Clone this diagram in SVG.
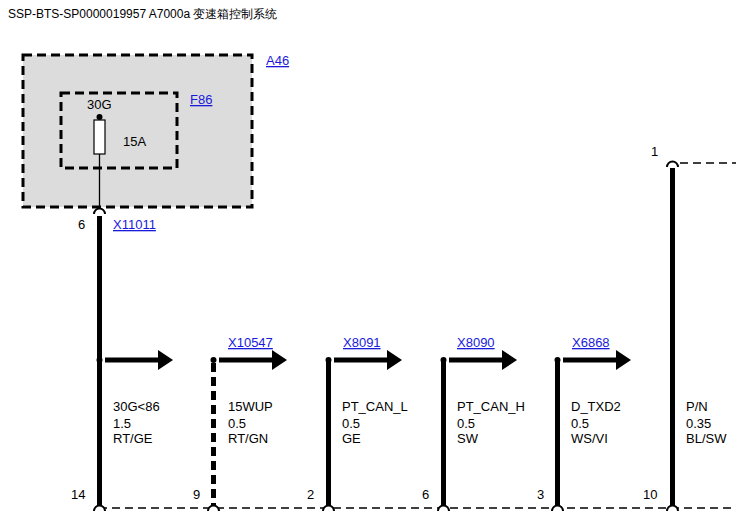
<svg xmlns="http://www.w3.org/2000/svg" width="736" height="511" viewBox="0 0 736 511">
<style>
text{font-family:"Liberation Sans",Arial,sans-serif;font-size:13px;fill:#000}
.t{font-size:12px}
.lnk{fill:#1a1adb;text-decoration:underline}
.w{stroke:#000;stroke-width:5;fill:none}
.cn{stroke:#000;stroke-width:2;fill:#fff}
.dash{stroke:#000;stroke-width:1.3;stroke-dasharray:8,5;fill:none}
</style>
<defs>
<marker id="ah" markerWidth="4" markerHeight="4" refX="0" refY="2" orient="auto" markerUnits="strokeWidth"><path d="M0,0 L3,2 L0,4 z" fill="#000"/></marker>
</defs>
<rect width="736" height="511" fill="#fff"/>
<text class="t" x="8" y="18">SSP-BTS-SP0000019957 A7000a 变速箱控制系统</text>
<g id="A46">
<rect x="23" y="55" width="229" height="152" fill="#dcdcdc" stroke="#000" stroke-width="3" stroke-dasharray="9,5"/>
<text class="lnk" x="266" y="65">A46</text>
</g>
<g id="F86">
<rect x="61" y="93" width="116" height="75" fill="none" stroke="#000" stroke-width="3" stroke-dasharray="9,5"/>
<text class="lnk" x="190" y="104">F86</text>
<text x="87" y="109">30G</text>
<text x="123" y="146">15A</text>
<rect x="94" y="120" width="11" height="34" fill="#fff" stroke="#000" stroke-width="1.2"/>
<circle cx="99.5" cy="117" r="3" fill="#000"/>
</g>
<g id="connectors">
<line x1="99.5" y1="154" x2="99.5" y2="208" stroke="#000" stroke-width="1.3"/>
<path d="M94,214 A5,5 0 0 1 105,214" class="cn"/>
<text x="78" y="229">6</text>
<text class="lnk" x="113" y="229">X11011</text>
<line x1="99.5" y1="216" x2="99.5" y2="506" class="w"/>
<line x1="213.5" y1="363" x2="213.5" y2="506" class="w" stroke-dasharray="9,5"/>
<line x1="328.5" y1="360" x2="328.5" y2="506" class="w"/>
<line x1="443.5" y1="360" x2="443.5" y2="506" class="w"/>
<line x1="557.5" y1="360" x2="557.5" y2="506" class="w"/>
<line x1="672.5" y1="168" x2="672.5" y2="506" class="w"/>
<path d="M667,167 A5,5 0 0 1 678,167" class="cn"/>
<line x1="680" y1="163" x2="736" y2="163" class="dash"/>
<text x="651" y="156">1</text>
<line x1="99" y1="508" x2="736" y2="508" class="dash"/>
<g fill="#000">
<circle cx="99.5" cy="360" r="3"/><circle cx="213.5" cy="360" r="3"/><circle cx="328.5" cy="360" r="3"/><circle cx="443.5" cy="360" r="3"/><circle cx="557.5" cy="360" r="3"/>
</g>
<g stroke="#000" stroke-width="5">
<line x1="105" y1="360" x2="158" y2="360" marker-end="url(#ah)"/>
<line x1="219" y1="360" x2="272" y2="360" marker-end="url(#ah)"/>
<line x1="334" y1="360" x2="387" y2="360" marker-end="url(#ah)"/>
<line x1="449" y1="360" x2="502" y2="360" marker-end="url(#ah)"/>
<line x1="563" y1="360" x2="616" y2="360" marker-end="url(#ah)"/>
</g>
<g class="cn">
<path d="M94,511 A5,5 0 0 1 105,511"/><path d="M208,511 A5,5 0 0 1 219,511"/><path d="M323,511 A5,5 0 0 1 334,511"/><path d="M438,511 A5,5 0 0 1 449,511"/><path d="M552,511 A5,5 0 0 1 563,511"/><path d="M667,511 A5,5 0 0 1 678,511"/>
</g>
</g>
<g id="labels">
<text class="lnk" x="228" y="347">X10547</text>
<text class="lnk" x="343" y="347">X8091</text>
<text class="lnk" x="457" y="347">X8090</text>
<text class="lnk" x="572" y="347">X6868</text>
<text x="113" y="411">30G&lt;86</text><text x="113" y="428">1.5</text><text x="113" y="443">RT/GE</text>
<text x="228" y="411">15WUP</text><text x="228" y="428">0.5</text><text x="228" y="443">RT/GN</text>
<text x="342" y="411">PT_CAN_L</text><text x="342" y="428">0.5</text><text x="342" y="443">GE</text>
<text x="457" y="411">PT_CAN_H</text><text x="457" y="428">0.5</text><text x="457" y="443">SW</text>
<text x="571" y="411">D_TXD2</text><text x="571" y="428">0.5</text><text x="571" y="443">WS/VI</text>
<text x="686" y="411">P/N</text><text x="686" y="428">0.35</text><text x="686" y="443">BL/SW</text>
<text x="71" y="499">14</text><text x="193" y="499">9</text><text x="307" y="499">2</text><text x="422" y="499">6</text><text x="537" y="499">3</text><text x="643" y="499">10</text>
</g>
</svg>
